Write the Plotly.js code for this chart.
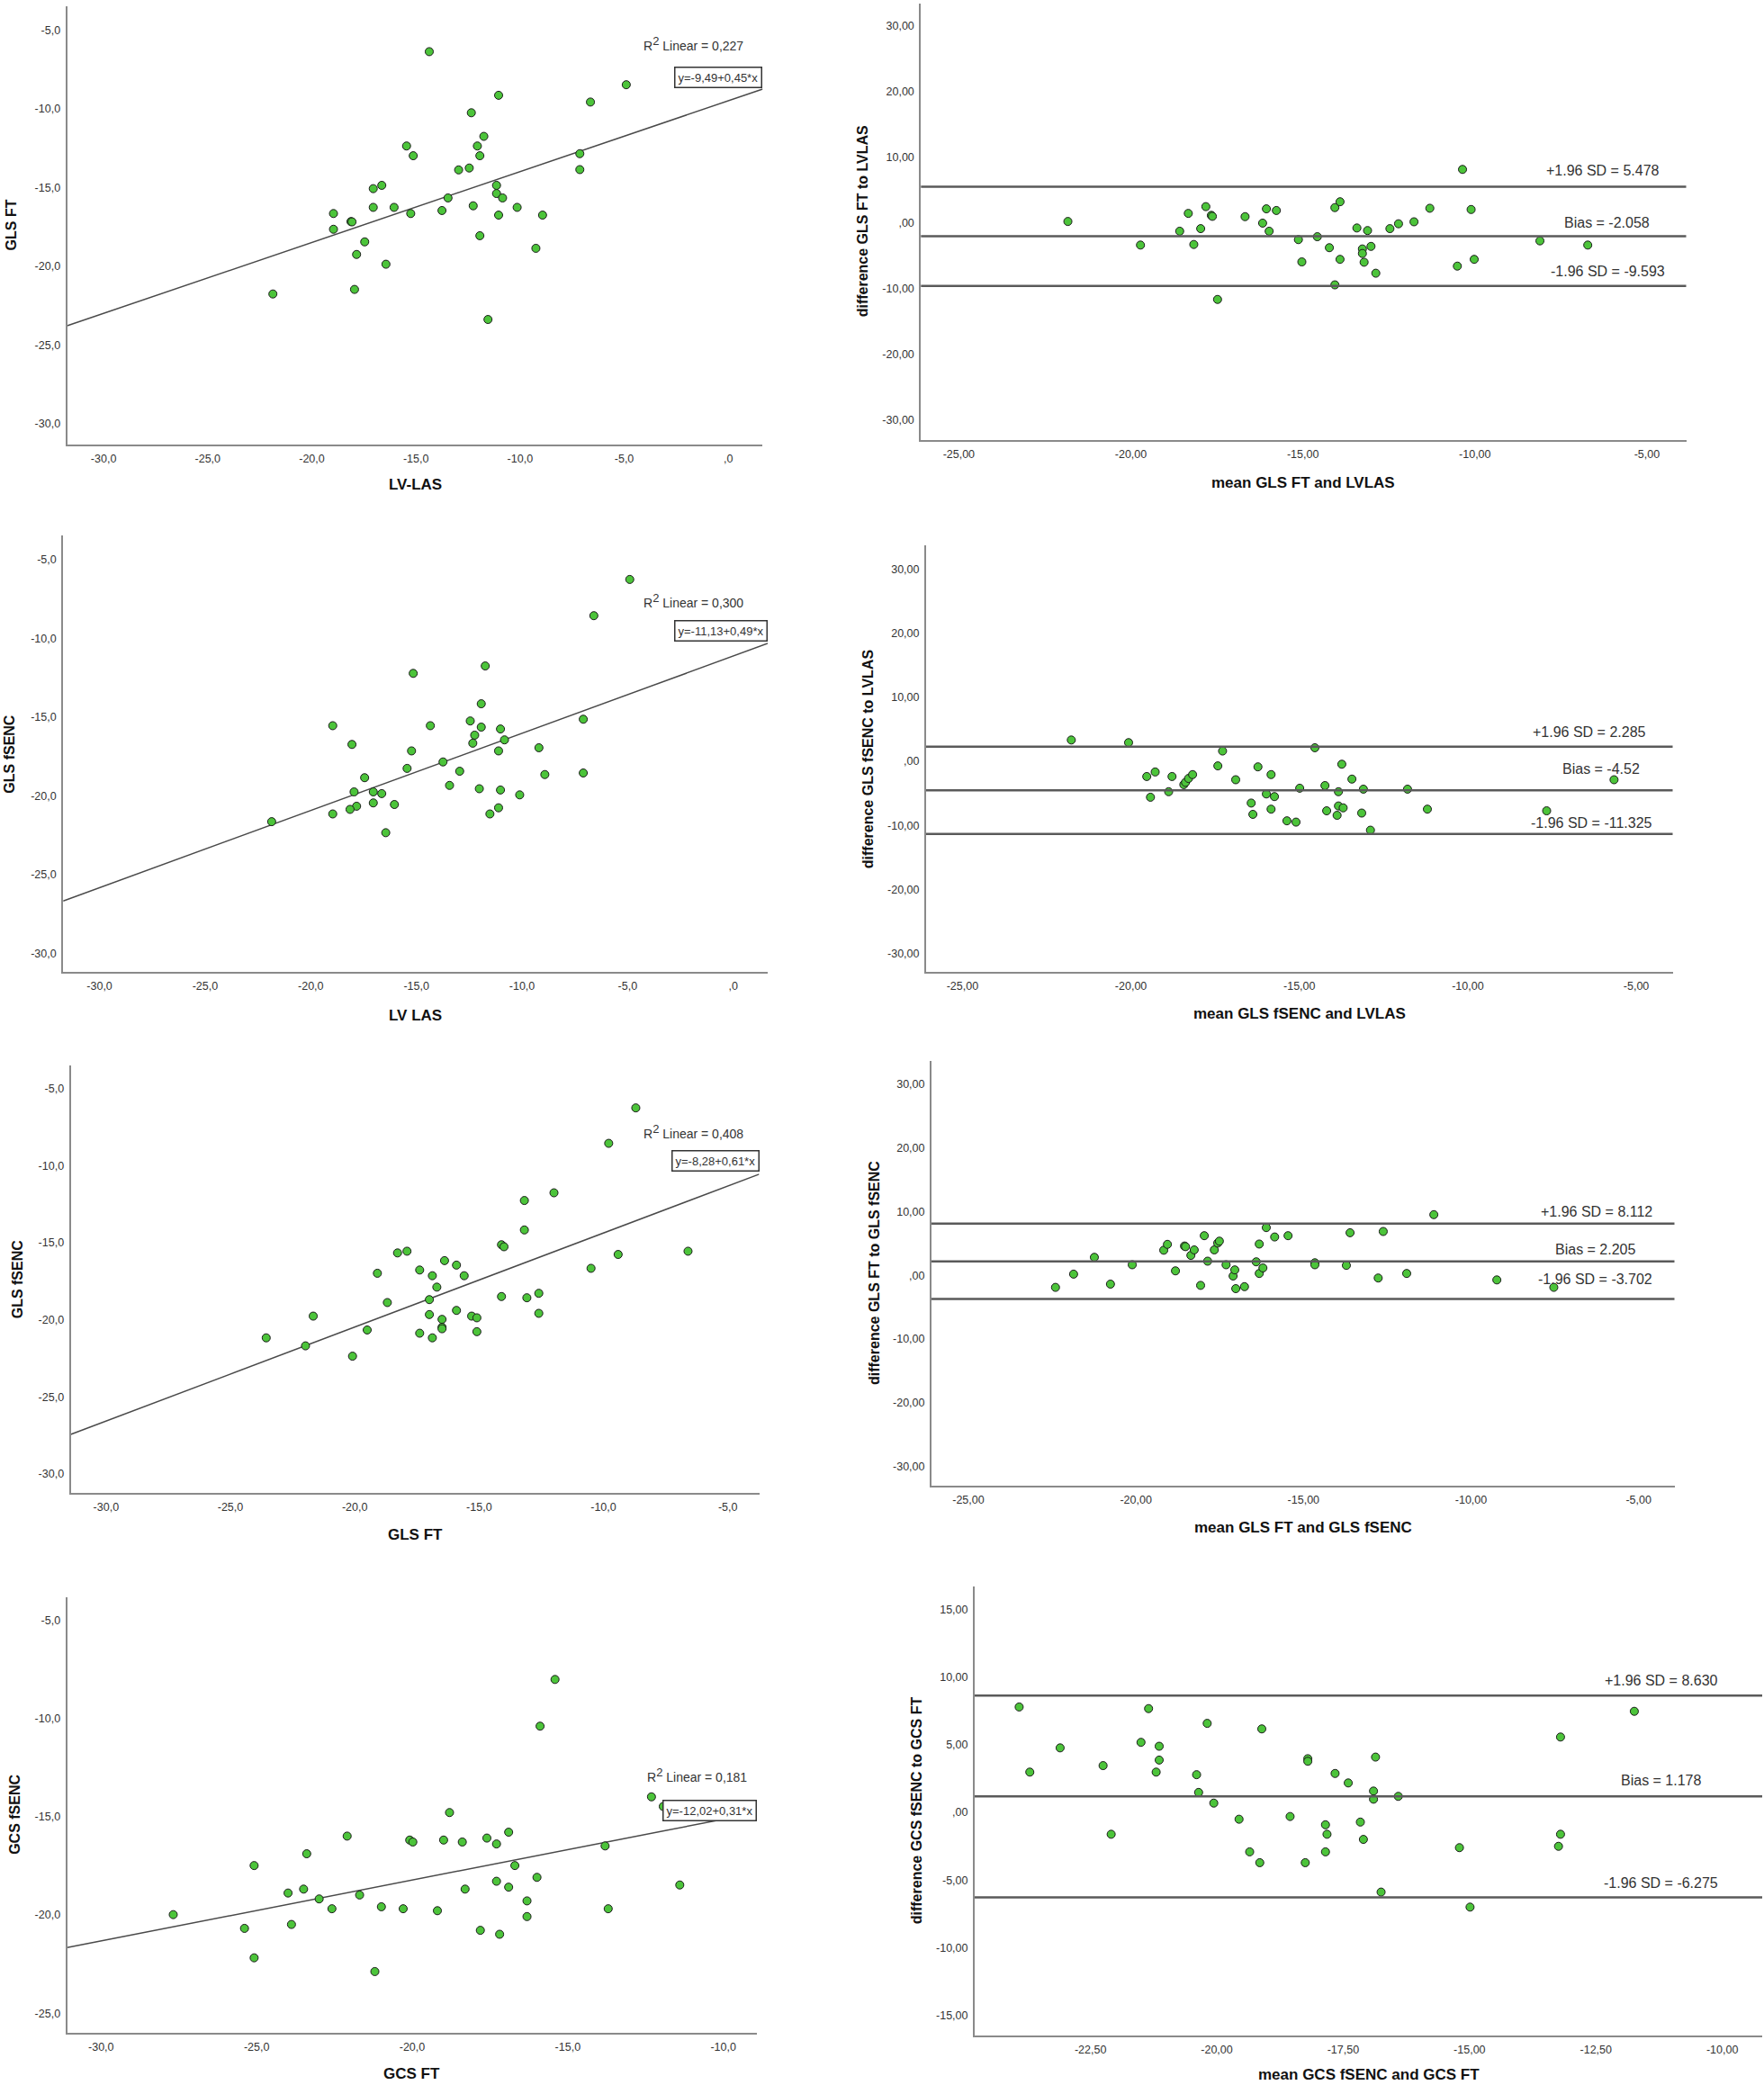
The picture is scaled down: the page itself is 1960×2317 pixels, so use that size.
<!DOCTYPE html>
<html><head><meta charset="utf-8">
<script src="https://cdn.plot.ly/plotly-3.0.1.min.js"></script>
<style>html,body{margin:0;padding:0;background:#fff;}#chart{width:1960px;height:2317px;}</style>
</head><body><div id="chart"></div>
<script>
// ---------- DATA ----------
// Panel 1: LV-LAS vs GLS FT
const lvlasA = [-14.36,-4.9,-11.03,-6.62,-12.34,-11.74,-15.45,-12.05,-15.13,-11.93,-7.13,-7.13,-12.95,-12.44,-16.64,-17.05,-11.13,-11.13,-10.84,-13.46,-17.05,-16.05,-12.25,-10.14,-13.75,-15.25,-18.96,-11.03,-8.92,-18.12,-18.07,-18.96,-17.46,-11.93,-17.85,-9.24,-16.44,-17.95,-21.87,-11.54];
const glsFtA = [-6.37,-8.47,-9.14,-9.57,-10.25,-11.75,-12.36,-12.36,-12.98,-12.98,-12.85,-13.86,-13.88,-13.76,-14.86,-15.07,-14.86,-15.38,-15.66,-15.66,-16.26,-16.26,-16.16,-16.26,-16.46,-16.65,-16.65,-16.75,-16.75,-17.16,-17.18,-17.65,-18.45,-18.06,-19.25,-18.86,-19.87,-21.47,-21.76,-23.38];
// Panel 2: Bland-Altman GLS FT vs LVLAS
const meanFtLas = [-21.83,-19.72,-18.58,-18.33,-18.17,-17.97,-17.82,-17.66,-17.63,-17.48,-16.68,-16.17,-16.06,-15.98,-15.77,-15.13,-15.03,-14.58,-14.23,-14.07,-13.92,-13.92,-14.07,-13.43,-13.27,-13.27,-13.22,-13.12,-13.02,-12.88,-12.47,-12.22,-11.77,-11.31,-10.51,-10.36,-10.11,-10.02,-8.11,-6.72];
const diffFtLas = [0.2,-3.39,-1.28,1.43,-3.3,-0.89,2.46,1.13,0.98,-11.66,0.93,-0.05,2.12,-1.28,1.87,-2.56,-5.95,-2.12,-3.79,2.31,3.2,-5.56,-9.44,-0.79,-3.98,-4.67,-6.0,-1.18,-3.59,-7.67,-0.89,-0.15,0.15,2.21,-6.59,8.12,2.02,-5.56,-2.75,-3.39];
// Panel 3: LV LAS vs GLS fSENC
const lvlasB = [-4.9,-6.6,-11.74,-15.15,-11.93,-7.1,-12.45,-18.96,-14.34,-11.93,-11.02,-12.24,-10.83,-12.33,-18.05,-9.2,-15.23,-11.11,-13.74,-15.44,-12.95,-7.1,-8.92,-17.45,-13.43,-12.02,-11.02,-17.95,-17.04,-16.64,-10.11,-17.04,-16.04,-17.83,-18.14,-11.11,-18.96,-11.52,-21.85,-16.45];
const glsFsencB = [-6.27,-8.57,-11.76,-12.23,-14.16,-15.14,-15.25,-15.55,-15.55,-15.64,-15.76,-16.15,-16.45,-16.66,-16.74,-16.95,-17.15,-17.15,-17.85,-18.26,-18.44,-18.55,-18.65,-18.85,-19.34,-19.55,-19.63,-19.75,-19.75,-19.86,-19.94,-20.45,-20.55,-20.66,-20.86,-20.76,-21.15,-21.15,-21.64,-22.34];
// Panel 4: Bland-Altman GLS fSENC vs LVLAS
const meanFsLas = [-21.77,-20.07,-19.53,-19.42,-19.28,-18.88,-18.78,-18.43,-18.38,-18.29,-18.17,-17.42,-17.28,-16.89,-16.43,-16.38,-16.23,-15.98,-15.84,-15.84,-15.74,-15.37,-15.1,-14.99,-14.54,-14.24,-14.19,-13.88,-13.84,-13.84,-13.74,-13.7,-13.44,-13.15,-13.1,-12.89,-11.79,-11.2,-7.66,-5.66];
const diffFsLas = [3.33,2.92,-2.37,-5.6,-1.66,-4.74,-2.37,-3.63,-3.28,-2.67,-2.07,-0.71,1.61,-2.87,-6.51,-8.27,-0.86,-5.09,-2.07,-7.46,-5.5,-9.28,-9.48,-4.19,2.12,-3.78,-7.72,-8.42,-4.74,-6.96,-0.45,-7.26,-2.77,-8.07,-4.34,-10.74,-4.34,-7.46,-7.72,-2.87];
// Panel 5: GLS FT vs GLS fSENC
const glsFtC = [-8.7,-9.79,-11.99,-13.18,-13.18,-14.1,-14.0,-18.28,-17.9,-6.6,-9.41,-16.39,-15.91,-10.5,-17.39,-19.09,-16.88,-15.6,-16.7,-12.6,-14.1,-13.08,-17.0,-18.69,-15.91,-12.6,-21.67,-17.0,-15.3,-15.09,-16.49,-16.49,-16.49,-19.5,-17.39,-15.09,-23.56,-16.88,-21.98,-20.09];
const glsFsencC = [-6.26,-8.56,-11.77,-12.27,-14.18,-15.14,-15.27,-15.67,-15.56,-15.56,-15.77,-16.17,-16.46,-16.67,-16.78,-16.99,-17.15,-17.15,-17.89,-18.29,-18.5,-18.58,-18.7,-18.89,-19.4,-19.59,-19.77,-19.67,-19.77,-19.88,-19.98,-20.49,-20.59,-20.67,-20.88,-20.78,-21.18,-21.18,-21.7,-22.37];
// Panel 6: Bland-Altman GLS FT vs GLS fSENC
const meanFtFs = [-22.4,-21.86,-21.24,-20.76,-20.11,-19.17,-19.06,-18.82,-18.55,-18.52,-18.36,-18.26,-18.07,-17.96,-17.86,-17.66,-17.56,-17.51,-17.31,-17.1,-17.05,-17.02,-16.76,-16.41,-16.32,-16.32,-16.21,-16.11,-15.86,-15.46,-14.66,-14.66,-13.72,-13.61,-12.77,-12.62,-11.92,-11.11,-9.23,-7.53];
const diffFtFs = [-1.88,0.2,2.84,-1.37,1.67,3.95,4.87,0.71,4.61,4.51,3.14,4.0,-1.57,6.23,2.23,4.0,5.07,5.37,1.67,-0.1,0.86,-2.08,-1.77,2.13,0.3,4.92,1.17,7.5,6.03,6.23,1.98,1.67,1.57,6.69,-0.41,6.89,0.3,9.53,-0.71,-1.88];
// Panel 7: GCS FT vs GCS fSENC
const gcsFt = [-15.41,-15.89,-12.31,-11.93,-18.8,-16.9,-22.09,-17.6,-20.08,-18.99,-19.98,-18.39,-17.29,-13.8,-23.39,-25.08,-16.7,-15.99,-17.29,-11.4,-16.9,-23.49,-18.3,-23.99,-21.69,-22.99,-16.31,-20.99,-22.58,-20.29,-13.7,-19.19,-27.68,-16.31,-23.88,-25.39,-17.81,-17.19,-25.08,-21.2];
const gcsFsenc = [-8.0,-10.38,-13.98,-14.47,-14.78,-15.78,-15.98,-16.08,-16.18,-16.18,-16.28,-16.28,-16.38,-16.48,-16.88,-17.48,-17.48,-18.08,-18.28,-18.47,-18.58,-18.68,-18.68,-18.88,-18.98,-19.18,-19.28,-19.58,-19.68,-19.68,-19.68,-19.78,-19.98,-20.08,-20.48,-20.68,-20.78,-20.98,-22.18,-22.88];
// Panel 8: Bland-Altman GCS fSENC vs GCS FT
const meanGcs = [-23.91,-23.7,-23.1,-22.25,-22.09,-21.5,-21.35,-21.2,-21.14,-21.14,-20.4,-20.36,-20.19,-20.06,-19.56,-19.35,-19.15,-19.11,-18.55,-18.25,-18.2,-18.2,-17.85,-17.82,-17.85,-17.66,-17.4,-17.16,-17.1,-16.9,-16.9,-16.86,-16.75,-16.41,-15.2,-14.99,-13.24,-13.2,-13.2,-11.74];
const diffGcs = [7.78,2.97,4.76,3.45,-1.62,5.17,7.66,2.97,4.88,3.86,2.78,1.47,6.57,0.68,-0.51,-2.92,-3.72,6.16,-0.31,-3.72,3.96,3.77,-0.92,-1.62,-2.92,2.87,2.17,-0.72,-2.0,1.57,0.97,4.08,-5.89,1.18,-2.61,-7.0,-2.51,-1.62,5.56,7.46];

// Regression: [intercept, slope], R² labels
const regIntercepts = [-9.49, -11.13, -8.28, -12.02];
const regSlopes = [0.45, 0.49, 0.61, 0.31];
const regEquations = ["y=-9,49+0,45*x", "y=-11,13+0,49*x", "y=-8,28+0,61*x", "y=-12,02+0,31*x"];
const rSquared = ["0,227", "0,300", "0,408", "0,181"];

// Bland-Altman limits [upper, bias, lower] and labels
const baLimits = [[5.478, -2.058, -9.593], [2.285, -4.52, -11.325], [8.112, 2.205, -3.702], [8.630, 1.178, -6.275]];
const baLabels = [
  ["+1.96 SD = 5.478", "Bias = -2.058", "-1.96 SD = -9.593"],
  ["+1.96 SD = 2.285", "Bias = -4.52", "-1.96 SD = -11.325"],
  ["+1.96 SD = 8.112", "Bias = 2.205", "-1.96 SD = -3.702"],
  ["+1.96 SD = 8.630", "Bias = 1.178", "-1.96 SD = -6.275"]
];

// Axis titles
const xTitles = ["LV-LAS", "mean GLS FT and LVLAS", "LV LAS", "mean GLS fSENC and LVLAS", "GLS FT", "mean GLS FT and GLS fSENC", "GCS FT", "mean GCS fSENC and GCS FT"];
const yTitles = ["GLS FT", "difference GLS FT to LVLAS", "GLS fSENC", "difference GLS fSENC to LVLAS", "GLS fSENC", "difference GLS FT to GLS fSENC", "GCS fSENC", "difference GCS fSENC to GCS FT"];

// Tick values and labels
const scatXTicks30to0 = [-30, -25, -20, -15, -10, -5, 0];
const scatXText30to0 = ["-30,0", "-25,0", "-20,0", "-15,0", "-10,0", "-5,0", ",0"];
const scatXTicks30to5 = [-30, -25, -20, -15, -10, -5];
const scatXText30to5 = ["-30,0", "-25,0", "-20,0", "-15,0", "-10,0", "-5,0"];
const scatXTicks30to10 = [-30, -25, -20, -15, -10];
const scatXText30to10 = ["-30,0", "-25,0", "-20,0", "-15,0", "-10,0"];
const scatYTicks30 = [-5, -10, -15, -20, -25, -30];
const scatYText30 = ["-5,0", "-10,0", "-15,0", "-20,0", "-25,0", "-30,0"];
const scatYTicks25 = [-5, -10, -15, -20, -25];
const scatYText25 = ["-5,0", "-10,0", "-15,0", "-20,0", "-25,0"];
const baXTicks = [-25, -20, -15, -10, -5];
const baXText = ["-25,00", "-20,00", "-15,00", "-10,00", "-5,00"];
const baYTicks = [30, 20, 10, 0, -10, -20, -30];
const baYText = ["30,00", "20,00", "10,00", ",00", "-10,00", "-20,00", "-30,00"];
const gcsXTicks = [-22.5, -20, -17.5, -15, -12.5, -10];
const gcsXText = ["-22,50", "-20,00", "-17,50", "-15,00", "-12,50", "-10,00"];
const gcsYTicks = [15, 10, 5, 0, -5, -10, -15];
const gcsYText = ["15,00", "10,00", "5,00", ",00", "-5,00", "-10,00", "-15,00"];

// ---------- LAYOUT / STYLE ----------
const W = 1960, H = 2317;
const FONT = "Liberation Sans, Arial, sans-serif";
const GREEN = "#4cc43a";

const panels = [
  {px:{l:74.6,r:847.4,t:7.2,b:493.6,ytx:12,xty:538.5}, xr:[-31.75,1.65], yr:[-31.3,-3.5], x:lvlasA, y:glsFtA, xt:[scatXTicks30to0,scatXText30to0], yt:[scatYTicks30,scatYText30], reg:0, rsq:{xs:-19,yf:0.915,bf:0.839}},
  {px:{l:1023.3,r:1873.5,t:3.6,b:489,ytx:958,xty:536}, xr:[-26.1,-3.86], yr:[-33.05,33.4], x:meanFtLas, y:diffFtLas, xt:[baXTicks,baXText], yt:[baYTicks,baYText], ba:0, off:[[28,18],[39,15],[21.5,16]]},
  {px:{l:70.2,r:853,t:595.4,b:1080,ytx:11,xty:1128.5}, xr:[-31.72,1.63], yr:[-31.17,-3.5], x:lvlasB, y:glsFsencB, xt:[scatXTicks30to0,scatXText30to0], yt:[scatYTicks30,scatYText30], reg:1, rsq:{xs:-25.5,yf:0.852,bf:0.783}},
  {px:{l:1029,r:1858.5,t:606,b:1080.4,ytx:964,xty:1126.7}, xr:[-26.08,-3.92], yr:[-32.9,33.7], x:meanFsLas, y:diffFsLas, xt:[baXTicks,baXText], yt:[baYTicks,baYText], ba:1, off:[[27.5,16],[35,23.5],[21,12.4]]},
  {px:{l:78.6,r:843.5,t:1184.4,b:1659,ytx:19.6,xty:1705}, xr:[-31.42,-3.74], yr:[-31.24,-3.53], x:glsFtC, y:glsFsencC, xt:[scatXTicks30to5,scatXText30to5], yt:[scatYTicks30,scatYText30], reg:2, rsq:{xs:-16,yf:0.845,bf:0.777}},
  {px:{l:1035,r:1860.5,t:1179,b:1651,ytx:971,xty:1697}, xr:[-26.1,-3.93], yr:[-33.0,33.65], x:meanFtFs, y:diffFtFs, xt:[baXTicks,baXText], yt:[baYTicks,baYText], ba:2, off:[[23,13.6],[41,13],[23,22]]},
  {px:{l:74.6,r:840.7,t:1774.7,b:2259,ytx:17,xty:2304}, xr:[-31.09,-8.93], yr:[-26.0,-3.8], x:gcsFt, y:gcsFsenc, xt:[scatXTicks30to10,scatXText30to10], yt:[scatYTicks25,scatYText25], reg:3, rsq:{xs:-9,yf:0.5916,bf:0.509}},
  {px:{l:1083,r:1958,t:1762.7,b:2261.8,ytx:1018,xty:2305}, xr:[-24.79,-9.21], yr:[-16.47,16.7], x:meanGcs, y:diffGcs, xt:[gcsXTicks,gcsXText], yt:[gcsYTicks,gcsYText], ba:3, off:[[47.5,16.2],[65,17.5],[47.5,16.3]]}
];

const traces = [];
const layout = {
  width: W, height: H,
  margin: {l:0, r:0, t:0, b:0},
  paper_bgcolor: "#fff", plot_bgcolor: "#fff",
  showlegend: false,
  font: {family: FONT, color: "#333"},
  annotations: [], shapes: []
};

panels.forEach((p, i) => {
  const n = i + 1;
  const xa = n === 1 ? "x" : "x" + n;
  const ya = n === 1 ? "y" : "y" + n;
  const xk = n === 1 ? "xaxis" : "xaxis" + n;
  const yk = n === 1 ? "yaxis" : "yaxis" + n;
  const q = p.px;
  layout[xk] = {
    domain: [q.l / W, q.r / W], range: p.xr, anchor: ya,
    showgrid: false, zeroline: false, showline: true, linecolor: "#8a8a8a", linewidth: 2,
    tickmode: "array", tickvals: p.xt[0], ticktext: p.xt[1],
    ticks: "outside", ticklen: 3, tickcolor: "rgba(0,0,0,0)",
    tickfont: {family: FONT, size: 12.5, color: "#333"}, fixedrange: true
  };
  layout[yk] = {
    domain: [1 - q.b / H, 1 - q.t / H], range: p.yr, anchor: xa,
    showgrid: false, zeroline: false, showline: true, linecolor: "#8a8a8a", linewidth: 2,
    tickmode: "array", tickvals: p.yt[0], ticktext: p.yt[1],
    ticks: "outside", ticklen: 3, tickcolor: "rgba(0,0,0,0)",
    tickfont: {family: FONT, size: 12.5, color: "#333"}, fixedrange: true
  };

  if (p.reg !== undefined) {
    const b0 = regIntercepts[p.reg], b1 = regSlopes[p.reg];
    const lx = [p.xr[0], p.xr[1]];
    traces.push({x: lx, y: lx.map(v => b0 + b1 * v), xaxis: xa, yaxis: ya, mode: "lines",
      line: {color: "#4a4a4a", width: 1.5}, hoverinfo: "skip"});
    layout.annotations.push({
      xref: xa + " domain", yref: ya + " domain", x: 1, y: p.rsq.yf, xanchor: "right", yanchor: "middle",
      xshift: p.rsq.xs, showarrow: false,
      text: "R<sup><span style=\"font-size:13px\">2</span></sup> Linear = " + rSquared[p.reg],
      font: {family: FONT, size: 14, color: "#333"}
    });
    layout.annotations.push({
      xref: xa + " domain", yref: ya + " domain", x: 1, y: p.rsq.bf, xanchor: "right", yanchor: "middle",
      showarrow: false, text: regEquations[p.reg],
      font: {family: FONT, size: 13, color: "#333"},
      bordercolor: "#333", borderwidth: 1.5, borderpad: 3, bgcolor: "#fff"
    });
  }
  if (p.ba !== undefined) {
    baLimits[p.ba].forEach((v, k) => {
      layout.shapes.push({type: "line", xref: xa + " domain", yref: ya, x0: 0, x1: 1, y0: v, y1: v,
        line: {color: "#5a5a5a", width: 2.5}});
      layout.annotations.push({
        xref: xa + " domain", yref: ya, x: 1, y: v, xanchor: "right", yanchor: "middle",
        xshift: -p.off[k][0], yshift: p.off[k][1], showarrow: false,
        text: baLabels[p.ba][k], font: {family: FONT, size: 16, color: "#333"}
      });
    });
  }
  traces.push({x: p.x, y: p.y, xaxis: xa, yaxis: ya, mode: "markers", type: "scatter",
    marker: {size: 9, color: GREEN, line: {color: "#1a1a1a", width: 1}}, hoverinfo: "x+y"});

  // axis titles
  layout.annotations.push({
    xref: "paper", yref: "paper", x: (q.l + q.r) / 2 / W, y: 1 - q.xty / H,
    xanchor: "center", yanchor: "middle", showarrow: false, text: xTitles[i],
    font: {family: FONT, size: 17, color: "#111", weight: "bold"}
  });
  layout.annotations.push({
    xref: "paper", yref: "paper", x: q.ytx / W, y: 1 - (q.t + q.b) / 2 / H,
    xanchor: "center", yanchor: "middle", textangle: -90, showarrow: false, text: yTitles[i],
    font: {family: FONT, size: 16, color: "#111", weight: "bold"}
  });
});

Plotly.newPlot("chart", traces, layout, {staticPlot: true, displayModeBar: false});
</script>
</body></html>
